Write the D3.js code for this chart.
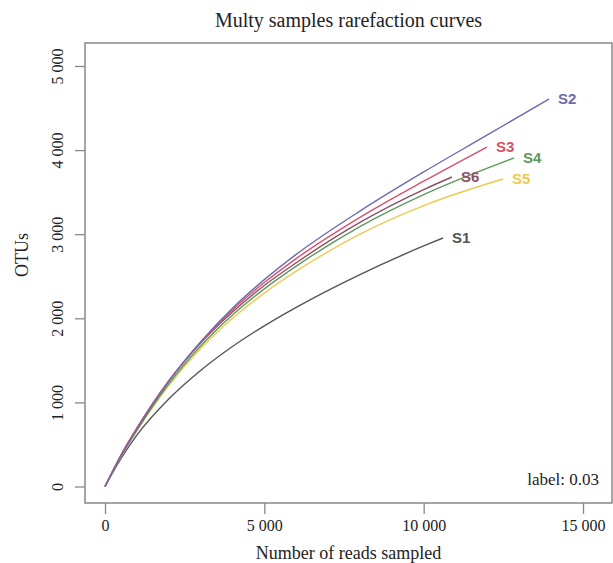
<!DOCTYPE html>
<html>
<head>
<meta charset="utf-8">
<script src="https://cdn.jsdelivr.net/npm/d3@7"></script>
<style>
  body { margin: 0; background: white; }
  svg { display: block; }
</style>
</head>
<body>
<script>
// values
var sampleNames = ["S1", "S5", "S4", "S6", "S3", "S2"]
var sampleColors = ["#555555", "#f0c850", "#5a9a5a", "#8e4f63", "#d9506a", "#6b6bb0"]

var readsS1 = [0, 500, 1000, 2000, 3000, 4000, 5000, 6000, 8000, 10000, 10607]
var otusS1  = [0, 330, 610, 1040, 1380, 1665, 1910, 2130, 2520, 2860, 2955]
var readsS2 = [0, 500, 1000, 2000, 3000, 4000, 5000, 6000, 8000, 10000, 12000, 13933]
var otusS2  = [0, 360, 680, 1250, 1720, 2120, 2460, 2760, 3275, 3740, 4180, 4608]
var readsS3 = [0, 500, 1000, 2000, 3000, 4000, 5000, 6000, 8000, 10000, 11987]
var otusS3  = [0, 370, 690, 1255, 1715, 2100, 2425, 2710, 3200, 3630, 4037]
var readsS4 = [0, 500, 1000, 2000, 3000, 4000, 5000, 6000, 8000, 10000, 12000, 12835]
var otusS4  = [0, 360, 670, 1220, 1670, 2040, 2350, 2620, 3090, 3470, 3785, 3906]
var readsS5 = [0, 500, 1000, 2000, 3000, 4000, 5000, 6000, 8000, 10000, 12000, 12490]
var otusS5  = [0, 355, 660, 1200, 1640, 2000, 2300, 2560, 3000, 3340, 3600, 3656]
var readsS6 = [0, 500, 1000, 2000, 3000, 4000, 5000, 6000, 8000, 10000, 10889]
var otusS6  = [0, 375, 695, 1255, 1705, 2075, 2390, 2660, 3140, 3530, 3680]

var xTicks = [0, 5000, 10000, 15000]
var yTicks = [0, 1000, 2000, 3000, 4000, 5000]

var seriesReads = { S1: readsS1, S2: readsS2, S3: readsS3, S4: readsS4, S5: readsS5, S6: readsS6 }
var seriesOtus = { S1: otusS1, S2: otusS2, S3: otusS3, S4: otusS4, S5: otusS5, S6: otusS6 }

var w = 613
var h = 563

// plot box
var box = { left: 85, right: 612, top: 43, bottom: 503 }

var x_scale = d3.scaleLinear()
            .domain([0, 15000])
            .range([105, 583])

var y_scale = d3.scaleLinear()
            .domain([0, 5000])
            .range([486.5, 66])

var fmt = d3.formatLocale({ decimal: ".", thousands: " ", grouping: [3], currency: ["", ""] }).format(",d")

var svg = d3.select("body")
            .append("svg")
            .attr("width", w)
            .attr("height", h)

var serif = "'Liberation Serif', 'Times New Roman', serif"

// title
svg.append("text")
    .attr("x", (box.left + box.right) / 2)
    .attr("y", 27)
    .attr("text-anchor", "middle")
    .style("font-family", serif)
    .style("font-size", "20px")
    .attr("fill", "#222")
    .text("Multy samples rarefaction curves")

// x axis
var xAxis = svg.append("g")
    .attr("transform", "translate(0," + box.bottom + ")")
    .call(d3.axisBottom(x_scale).tickValues(xTicks).tickSize(11).tickPadding(6).tickFormat(fmt))
xAxis.select(".domain").remove()
xAxis.selectAll("line").attr("stroke", "#888").attr("stroke-width", 1.3)
xAxis.selectAll("text")
    .style("font-family", serif)
    .style("font-size", "16px")
    .attr("fill", "#222")

// y axis, labels turned like in R
var yAxis = svg.append("g")
    .attr("transform", "translate(" + box.left + ",0)")
    .call(d3.axisLeft(y_scale).tickValues(yTicks).tickSize(10).tickFormat(fmt))
yAxis.select(".domain").remove()
yAxis.selectAll("line").attr("stroke", "#888").attr("stroke-width", 1.3)
yAxis.selectAll("text")
    .attr("x", null)
    .attr("dy", null)
    .attr("text-anchor", "middle")
    .attr("transform", "translate(-22,0) rotate(-90)")
    .style("font-family", serif)
    .style("font-size", "16px")
    .attr("fill", "#222")

// axis titles
svg.append("text")
    .attr("x", (box.left + box.right) / 2)
    .attr("y", 559)
    .attr("text-anchor", "middle")
    .style("font-family", serif)
    .style("font-size", "18px")
    .attr("fill", "#222")
    .text("Number of reads sampled")

svg.append("text")
    .attr("transform", "translate(28,255) rotate(-90)")
    .attr("text-anchor", "middle")
    .style("font-family", serif)
    .style("font-size", "18px")
    .attr("fill", "#222")
    .text("OTUs")

// curves
var line = d3.line()
    .x(d => x_scale(d[0]))
    .y(d => y_scale(d[1]))
    .curve(d3.curveMonotoneX)

sampleNames.forEach(function(name, i) {
    var pts = seriesReads[name].map((r, j) => [r, seriesOtus[name][j]])
    svg.append("path")
        .datum(pts)
        .attr("d", line)
        .attr("fill", "none")
        .attr("stroke", sampleColors[i])
        .attr("stroke-width", 1.4)

    var last = pts[pts.length - 1]
    svg.append("text")
        .attr("x", x_scale(last[0]) + 9)
        .attr("y", y_scale(last[1]))
        .attr("dy", "0.35em")
        .style("font-family", "'Liberation Sans', Arial, sans-serif")
        .style("font-size", "15px")
        .style("font-weight", "bold")
        .attr("fill", sampleColors[i])
        .text(name)
})

// corner note
svg.append("text")
    .attr("x", 599)
    .attr("y", 485)
    .attr("text-anchor", "end")
    .style("font-family", serif)
    .style("font-size", "17px")
    .attr("fill", "#222")
    .text("label: 0.03")

// box on top
svg.append("rect")
    .attr("x", box.left)
    .attr("y", box.top)
    .attr("width", box.right - box.left)
    .attr("height", box.bottom - box.top)
    .attr("fill", "none")
    .attr("stroke", "#888")
    .attr("stroke-width", 1.5)
</script>
</body>
</html>
